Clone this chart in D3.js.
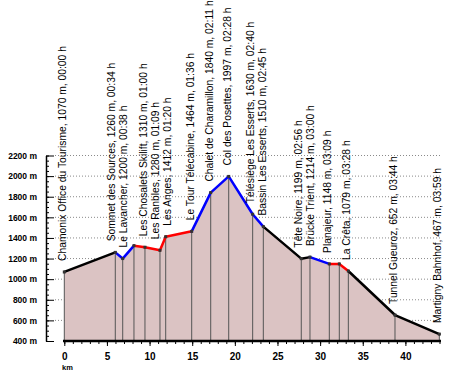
<!DOCTYPE html>
<html>
<head>
<meta charset="utf-8">
<script src="https://cdn.jsdelivr.net/npm/d3@7"></script>
<style>
body { margin: 0; background: #fff; }
svg { display: block; font-family: "Liberation Sans", Arial, sans-serif; }
</style>
</head>
<body>
<svg id="chart" width="461" height="377"></svg>
<script>
// waypoints along the route
var kmVals   = [0, 5.98, 6.85, 8.17, 9.46, 11.22, 11.89, 14.94, 17.17, 19.28, 22.09, 23.34, 27.79, 28.81, 31.08, 32.25, 33.31, 38.78, 43.98];
var elevVals = [1070, 1260, 1200, 1325, 1310, 1280, 1412, 1464, 1840, 1997, 1630, 1510, 1199, 1214, 1148, 1148, 1079, 652, 467];
var names    = ["Chamonix Office du Tourisme", "Sommet des Sources", "Le Lavancher", "", "Les Chosalets Skilift", "Les Ranbles",
		"Les Anges", "Le Tour Télécabine", "Chalet de Charamillon", "Col des Posettes", "Télésiège Les Esserts",
		"Bassin Les Esserts", "Tête Noire", "Brücke Trient", "Planajeur", "", "La Crêta", "Tunnel Gueuroz", "Martigny Bahnhof"];
var times    = ["00:00", "00:34", "00:38", "", "01:00", "01:09", "01:20", "01:36", "02:11", "02:28", "02:40",
		"02:45", "02:56", "03:00", "03:09", "", "03:28", "03:44", "03:59"];
// colour of the segment that starts at each waypoint
var segColors = ["black", "blue", "blue", "red", "red", "red", "red", "blue", "blue", "blue", "blue",
		 "black", "black", "blue", "red", "red", "black", "black"];
var yTicks = [400, 600, 800, 1000, 1200, 1400, 1600, 1800, 2000, 2200];
var xTicks = [0, 5, 10, 15, 20, 25, 30, 35, 40];

var svg = d3.select("#chart");

var x = d3.scaleLinear().domain([0, 44]).range([64.3, 439.5]);
var y = d3.scaleLinear().domain([400, 2200]).range([341, 155.5]);

var pts = kmVals.map(function(d, i){ return {km: d, elev: elevVals[i], name: names[i], time: times[i]}; });

// grid
svg.append("g").selectAll("line")
    .data(yTicks.slice(1))
    .enter().append("line")
    .attr("x1", 55).attr("x2", 441)
    .attr("y1", function(d){ return y(d); })
    .attr("y2", function(d){ return y(d); })
    .attr("stroke", "#8a8a8a")
    .attr("stroke-dasharray", "1,2");

// filled profile
var area = d3.area()
    .x(function(d){ return x(d.km); })
    .y0(y(400))
    .y1(function(d){ return y(d.elev); });
svg.append("path")
    .datum(pts)
    .attr("d", area)
    .attr("fill", "#dbc3c3");

// drop lines
svg.append("g").selectAll("line")
    .data(pts)
    .enter().append("line")
    .attr("x1", function(d){ return x(d.km); })
    .attr("x2", function(d){ return x(d.km); })
    .attr("y1", function(d){ return y(d.elev); })
    .attr("y2", y(400))
    .attr("stroke", "#555")
    .attr("stroke-width", 1);

// coloured segments
svg.append("g").selectAll("line")
    .data(pts.slice(0, -1))
    .enter().append("line")
    .attr("x1", function(d){ return x(d.km); })
    .attr("y1", function(d){ return y(d.elev); })
    .attr("x2", function(d, i){ return x(pts[i+1].km); })
    .attr("y2", function(d, i){ return y(pts[i+1].elev); })
    .attr("stroke", function(d, i){ return segColors[i]; })
    .attr("stroke-width", 2.5)
    .attr("stroke-linecap", "round");

// markers
svg.append("g").selectAll("rect")
    .data(pts)
    .enter().append("rect")
    .attr("x", function(d){ return x(d.km) - 1.5; })
    .attr("y", function(d){ return y(d.elev) - 1.5; })
    .attr("width", 3).attr("height", 3)
    .attr("fill", "#333");

// labels, pushed apart where they crowd
var labelled = pts.filter(function(d){ return d.name !== ""; });
var lx = labelled.map(function(d){ return x(d.km) + 2; });
for (var it = 0; it < 50; it++) {
    for (var k = 0; k < lx.length - 1; k++) {
	var gap = lx[k+1] - lx[k];
	if (gap < 12) {
	    lx[k] -= (12 - gap) / 2;
	    lx[k+1] += (12 - gap) / 2;
	}
    }
}
svg.append("g").selectAll("text")
    .data(labelled)
    .enter().append("text")
    .attr("transform", function(d, i){ return "translate(" + lx[i] + "," + (y(d.elev) - 11) + ") rotate(-90)"; })
    .attr("font-size", "10.3px")
    .attr("fill", "#000")
    .text(function(d){ return d.name + ", " + d.elev + " m, " + d.time + " h"; });

// y axis
var yAxis = d3.axisLeft(y).tickValues(yTicks)
    .tickSizeInner(-8).tickSizeOuter(0).tickPadding(9)
    .tickFormat(function(d){ return d + " m"; });
var gy = svg.append("g").attr("transform", "translate(46,0)").call(yAxis);
gy.select(".domain").attr("stroke-width", 1.5);
gy.selectAll("text").attr("font-size", "8.5px").attr("font-weight", "bold").attr("font-family", "Liberation Sans, Arial, sans-serif");
var gyMinor = svg.append("g").attr("transform", "translate(46,0)")
    .call(d3.axisLeft(y).tickValues(d3.range(400, 2201, 50)).tickSizeInner(-3).tickSizeOuter(0).tickFormat(""));
gyMinor.select(".domain").remove();

// x axis
var xAxis = d3.axisBottom(x).tickValues(xTicks)
    .tickSizeInner(5).tickSizeOuter(0).tickPadding(7);
var gx = svg.append("g").attr("transform", "translate(0," + y(400) + ")").call(xAxis);
gx.select(".domain").attr("stroke-width", 2.5).attr("d", "M63," + 0 + "H441");
gx.selectAll("text").attr("font-size", "10px").attr("font-weight", "bold").attr("font-family", "Liberation Sans, Arial, sans-serif");
var gxMinor = svg.append("g").attr("transform", "translate(0," + y(400) + ")")
    .call(d3.axisBottom(x).tickValues(d3.range(0, 45, 1)).tickSizeInner(3).tickSizeOuter(0).tickFormat(""));
gxMinor.select(".domain").remove();

svg.append("text")
    .attr("x", 62).attr("y", 370)
    .attr("font-size", "7.5px").attr("font-weight", "bold")
    .text("km");
</script>
</body>
</html>
